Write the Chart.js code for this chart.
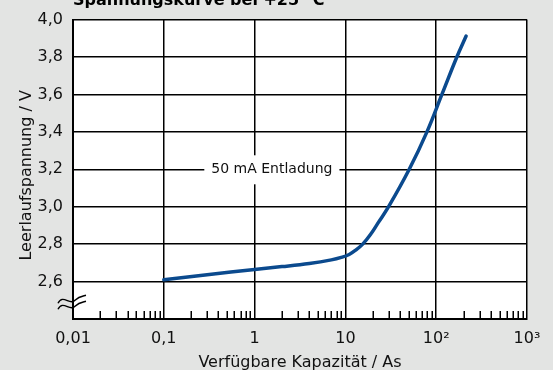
<!DOCTYPE html>
<html>
<head>
<meta charset="utf-8">
<script src="https://cdn.jsdelivr.net/npm/chart.js@4/dist/chart.umd.min.js"></script>
<style>
  html, body { margin: 0; padding: 0; background: #e3e4e3; }
  #wrap { width: 553px; height: 370px; }
</style>
</head>
<body>
<div id="wrap"><canvas id="chart" width="553" height="370"></canvas></div>
<script>
// capacity in As (log axis) and open-circuit voltage in V
const capacity = [0.1, 0.3, 1, 2, 4, 7, 9, 11, 13, 15.5, 18.8, 23, 29.9, 50.5, 79.1, 115.6, 168.8, 213.6];
const voltage = [2.61, 2.636, 2.665, 2.68, 2.697, 2.716, 2.729, 2.745, 2.768, 2.8, 2.85, 2.915, 3.0, 3.2, 3.4, 3.6, 3.8, 3.912];

const xTicks = [0.01, 0.1, 1, 10, 100, 1000];
const xTickLabels = ['0,01', '0,1', '1', '10', '10²', '10³'];
const yTicks = [2.4, 2.6, 2.8, 3.0, 3.2, 3.4, 3.6, 3.8, 4.0];
const yTickLabels = ['', '2,6', '2,8', '3,0', '3,2', '3,4', '3,6', '3,8', '4,0'];

const titleText = 'Spannungskurve bei +25 °C';
const xTitle = 'Verfügbare Kapazität / As';
const yTitle = 'Leerlaufspannung / V';
const noteText = '50 mA Entladung';

const FONT = '"DejaVu Sans", sans-serif';

const decor = {
  id: 'decor',
  beforeDraw(chart) {
    const { ctx, chartArea: a } = chart;
    ctx.save();
    ctx.fillStyle = '#e3e4e3';
    ctx.fillRect(0, 0, chart.width, chart.height);
    ctx.fillStyle = '#ffffff';
    ctx.fillRect(a.left, a.top, a.right - a.left, a.bottom - a.top);
    ctx.restore();
  },
  beforeDatasetsDraw(chart) {
    const { ctx, chartArea: a, scales: { x, y } } = chart;
    ctx.save();
    // minor ticks on bottom axis
    ctx.strokeStyle = '#000';
    ctx.lineWidth = 1.5;
    for (let d = 0.01; d < 1000; d *= 10) {
      for (let m = 2; m <= 9; m++) {
        const px = Math.round(x.getPixelForValue(d * m)) + 0.25;
        ctx.beginPath();
        ctx.moveTo(px, a.bottom);
        ctx.lineTo(px, a.bottom - 8);
        ctx.stroke();
      }
    }
    // note label with white box
    const cx = x.getPixelForValue(1.55);
    const cy = y.getPixelForValue(3.2);
    ctx.font = '14px ' + FONT;
    const w = ctx.measureText(noteText).width;
    ctx.fillStyle = '#fff';
    ctx.fillRect(cx - w / 2 - 7, cy - 14, w + 14, 29);
    ctx.fillStyle = '#111';
    ctx.textAlign = 'center';
    ctx.textBaseline = 'middle';
    ctx.fillText(noteText, cx, cy);
    ctx.restore();
  },
  afterDraw(chart) {
    const { ctx, chartArea: a, scales: { y } } = chart;
    ctx.save();
    // axis break symbol
    const by = y.getPixelForValue(2.5);
    ctx.strokeStyle = '#000';
    ctx.lineWidth = 1.4;
    [-3, 3].forEach(off => {
      const yy = by + off + 3;
      ctx.beginPath();
      ctx.moveTo(a.left - 15, yy + 3);
      ctx.bezierCurveTo(a.left - 10, yy - 7, a.left - 3, yy + 6, a.left + 2, yy);
      ctx.bezierCurveTo(a.left + 6, yy - 4, a.left + 9, yy - 4, a.left + 13, yy - 5);
      ctx.stroke();
    });
    // title, cut at top
    ctx.fillStyle = '#000';
    ctx.font = 'bold 16px ' + FONT;
    ctx.textAlign = 'left';
    ctx.textBaseline = 'alphabetic';
    ctx.fillText(titleText, a.left, 5);
    // axis titles
    ctx.font = '16px ' + FONT;
    ctx.fillStyle = '#111';
    ctx.textAlign = 'center';
    ctx.fillText(xTitle, (a.left + a.right) / 2, 367);
    ctx.translate(31, (a.top + a.bottom) / 2 + 6);
    ctx.rotate(-Math.PI / 2);
    ctx.fillText(yTitle, 0, 0);
    ctx.restore();
  }
};

new Chart(document.getElementById('chart'), {
  type: 'line',
  data: {
    datasets: [{
      data: capacity.map((c, i) => ({ x: c, y: voltage[i] })),
      borderColor: '#0b4a8e',
      borderWidth: 3.5,
      borderCapStyle: 'round',
      pointRadius: 0,
      tension: 0.4,
      fill: false
    }]
  },
  options: {
    responsive: false,
    devicePixelRatio: 1,
    animation: false,
    layout: { padding: { top: 17, right: 26, left: 0, bottom: 0 } },
    plugins: { legend: { display: false }, tooltip: { enabled: false }, title: { display: false } },
    scales: {
      x: {
        type: 'logarithmic',
        min: 0.01,
        max: 1000,
        afterBuildTicks: s => { s.ticks = xTicks.map(v => ({ value: v })); },
        afterFit: s => { s.height = 51; },
        ticks: {
          autoSkip: false,
          maxRotation: 0,
          padding: 10,
          color: '#111',
          font: { family: FONT, size: 16 },
          callback: (v, i) => xTickLabels[i]
        },
        grid: { color: '#000', lineWidth: 1.5, drawTicks: false },
        border: { color: '#000', width: 2 }
      },
      y: {
        type: 'linear',
        min: 2.4,
        max: 4.0,
        afterBuildTicks: s => { s.ticks = yTicks.map(v => ({ value: v })); },
        afterFit: s => { s.width = 73; },
        ticks: {
          padding: 10,
          color: '#111',
          font: { family: FONT, size: 16 },
          callback: (v, i) => yTickLabels[i]
        },
        grid: { color: '#000', lineWidth: 1.5, drawTicks: false },
        border: { color: '#000', width: 2 }
      }
    }
  },
  plugins: [decor]
});
</script>
</body>
</html>
